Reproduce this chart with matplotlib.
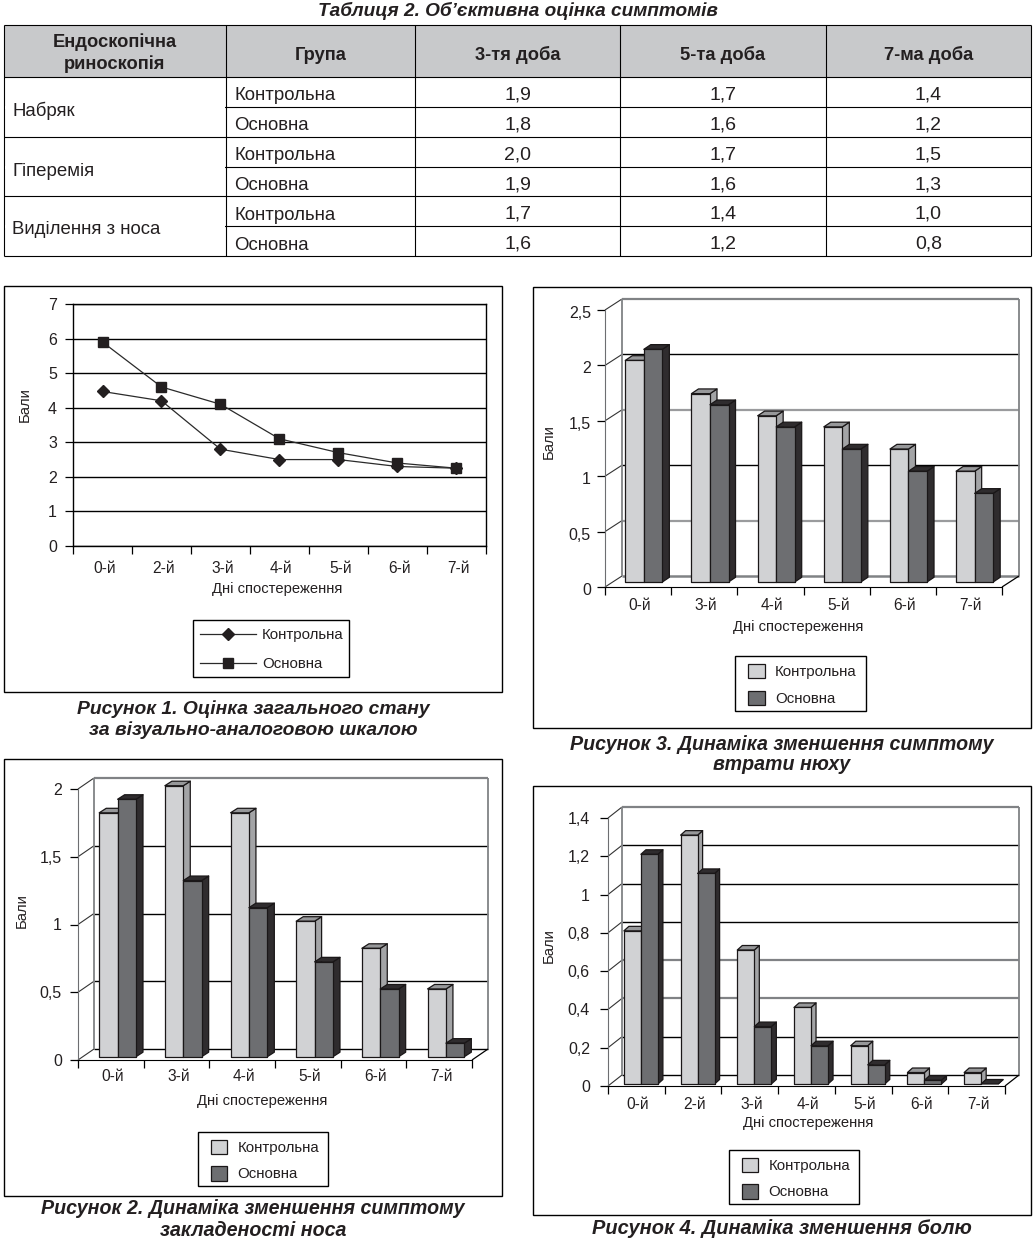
import matplotlib
matplotlib.use('Agg')
import matplotlib.pyplot as plt
from matplotlib.patches import Patch, Rectangle
from matplotlib.transforms import ScaledTranslation

plt.rcParams['font.family'] = ['Liberation Sans', 'DejaVu Sans']

W, H = 1035, 1240
ink = '#231f20'

# table
table_title = 'Таблиця 2. Об’єктивна оцінка симптомів'
table_head = ['Ендоскопічна\nриноскопія', 'Група', '3-тя доба', '5-та доба', '7-ма доба']
symptoms = ['Набряк', 'Гіперемія', 'Виділення з носа']
groups = ['Контрольна', 'Основна']
day3 = ['1,9', '1,8', '2,0', '1,9', '1,7', '1,6']
day5 = ['1,7', '1,6', '1,7', '1,6', '1,4', '1,2']
day7 = ['1,4', '1,2', '1,5', '1,3', '1,0', '0,8']

# figure 1
fig1_days = ['0-й', '2-й', '3-й', '4-й', '5-й', '6-й', '7-й']
fig1_control = [4.47, 4.2, 2.8, 2.5, 2.5, 2.3, 2.25]
fig1_main = [5.9, 4.6, 4.1, 3.1, 2.7, 2.4, 2.25]

# figure 2
fig2_days = ['0-й', '3-й', '4-й', '5-й', '6-й', '7-й']
fig2_control = [1.8, 2.0, 1.8, 1.0, 0.8, 0.5]
fig2_main = [1.9, 1.3, 1.1, 0.7, 0.5, 0.1]
fig2_ticks = [0, 0.5, 1, 1.5, 2]

# figure 3
fig3_days = ['0-й', '3-й', '4-й', '5-й', '6-й', '7-й']
fig3_control = [2.0, 1.7, 1.5, 1.4, 1.2, 1.0]
fig3_main = [2.1, 1.6, 1.4, 1.2, 1.0, 0.8]
fig3_ticks = [0, 0.5, 1, 1.5, 2, 2.5]

# figure 4
fig4_days = ['0-й', '2-й', '3-й', '4-й', '5-й', '6-й', '7-й']
fig4_control = [0.8, 1.3, 0.7, 0.4, 0.2, 0.06, 0.06]
fig4_main = [1.2, 1.1, 0.3, 0.2, 0.1, 0.02, 0.0]
fig4_ticks = [0, 0.2, 0.4, 0.6, 0.8, 1, 1.2, 1.4]

xlabel = 'Дні спостереження'
ylabel = 'Бали'

fig = plt.figure(figsize=(W / 100, H / 100), dpi=100, facecolor='white')

# whole page in pixels, for the frames, the table and the captions
page = fig.add_axes([0, 0, 1, 1], zorder=0)
page.set_xlim(0, W)
page.set_ylim(H, 0)
page.axis('off')


def comma(v):
    return str(v).replace('.', ',')


def hline(x0, x1, y, color='black', lw=0.8):
    page.plot([x0, x1], [y, y], color=color, lw=lw, solid_capstyle='butt')


def vline(x, y0, y1, color='black', lw=0.8):
    page.plot([x, x], [y0, y1], color=color, lw=lw, solid_capstyle='butt')


def caption(lines, cx, y0, size=14.1):
    for i, line in enumerate(lines):
        page.text(cx, y0 + i * 21, line, ha='center', va='center', fontsize=size,
                  fontweight='bold', fontstyle='italic', color=ink)


def draw_table():
    cols = [4, 226, 415, 620, 826, 1031]
    rows = [25, 77, 107, 137, 167, 196, 226, 256]
    page.add_patch(Rectangle((4, 25), 1027, 52, fc='#c8c9cb', ec='none'))
    for y in rows:
        hline(cols[0], cols[-1], y)
    for x in cols:
        vline(x, rows[0], rows[-1])
    # symptom column is merged across the two group rows
    for i in (2, 4, 6):
        page.add_patch(Rectangle((cols[0] + 1, rows[i] - 1.5), cols[1] - cols[0] - 2, 3,
                                 fc='white', ec='none', zorder=3))
    for j, head in enumerate(table_head):
        cy = 53 if j == 0 else 55
        page.text((cols[j] + cols[j + 1]) / 2, cy, head, ha='center', va='center', fontsize=13.2,
                  fontweight='bold', color=ink, linespacing=1.32)
    for i, symptom in enumerate(symptoms):
        page.text(12, rows[1 + 2 * i + 1] + 4, symptom, ha='left', va='center', fontsize=13.4, color=ink)
    for r in range(6):
        cy = (rows[r + 1] + rows[r + 2]) / 2
        page.text(234, cy + 4, groups[r % 2], ha='left', va='center', fontsize=13.4, color=ink)
        for j, col in enumerate([day3, day5, day7]):
            page.text((cols[j + 2] + cols[j + 3]) / 2, cy + 3, col[r], ha='center', va='center',
                      fontsize=14, color=ink)


def chart_axes(x0, x1, y0, y1):
    ax = fig.add_axes([x0 / W, 1 - y0 / H, (x1 - x0) / W, (y0 - y1) / H], zorder=2)
    ax.patch.set_alpha(0)
    return ax


def style_axes(ax, days, ticks, labels, lab_x, lab_y, xpad, ypad, ydrop=0):
    n = len(days)
    ax.set_xlim(0, n)
    ax.set_xticks([i + 0.53 for i in range(n)], days)
    ax.set_xticks(range(n + 1), minor=True)
    ax.tick_params(axis='x', which='major', length=0, pad=xpad, labelsize=11.2, labelcolor=ink)
    ax.tick_params(axis='x', which='minor', length=5.8, width=0.9)
    ax.set_yticks(ticks, labels)
    ax.tick_params(axis='y', length=5.8, width=0.9, pad=ypad, labelsize=11.5, labelcolor=ink)
    if ydrop:
        offset = ScaledTranslation(0, -ydrop / 100, fig.dpi_scale_trans)
        for lab in ax.get_yticklabels():
            lab.set_transform(lab.get_transform() + offset)
    ax.set_xlabel(xlabel, fontsize=10.6, color=ink)
    ax.set_ylabel(ylabel, fontsize=10.6, color=ink)
    ax.xaxis.set_label_coords(lab_x[0], lab_x[1], transform=page.transData)
    ax.yaxis.set_label_coords(lab_y[0], lab_y[1], transform=page.transData)
    ax.xaxis.label.set_verticalalignment('center')
    ax.yaxis.label.set_verticalalignment('center')


def add_legend(ax, box, handles, shift, **kw):
    x0, y0, x1, y1 = box
    page.add_patch(Rectangle((x0, y0), x1 - x0, y1 - y0, fc='white', ec='black', lw=1.0))
    ax.legend(handles, groups, loc='center', frameon=False, fontsize=10.8, labelcolor=ink,
              bbox_to_anchor=((x0 + shift) / W, 1 - (y1 + 1.5) / H, (x1 - x0) / W, (y1 - y0) / H),
              bbox_transform=fig.transFigure, borderpad=0, **kw)


def line_chart(frame, days, control, main, legend_box):
    x0, y0, x1, y1 = frame
    page.add_patch(Rectangle((x0, y0), x1 - x0, y1 - y0, fc='none', ec='black', lw=1.0))
    ax = chart_axes(73, 486, 546, 304)
    ax.set_ylim(0, 7)
    style_axes(ax, days, range(8), [str(v) for v in range(8)], (277, 589), (25, 405), 10.5, 5.8)
    ax.yaxis.grid(True, color='black', lw=1.0)
    ax.set_axisbelow(True)
    for s in ax.spines.values():
        s.set_linewidth(1.0)
    xs = [i + 0.5 for i in range(len(days))]
    l1, = ax.plot(xs, control, color='#2a2a2a', lw=0.9, marker='D', ms=6.6, mfc=ink, mec=ink, clip_on=False)
    l2, = ax.plot(xs, main, color='#2a2a2a', lw=0.9, marker='s', ms=7.6, mfc=ink, mec=ink, clip_on=False)
    add_legend(ax, legend_box, [l1, l2], 1.5, handlelength=3.7, handletextpad=0.4, labelspacing=1.0)


def bar_chart(frame, plot, depth, bar_geom, days, control, main, ticks, vmax, grid_colors,
              floor_color, lab_x, lab_y, pads, legend_box):
    x0, y0, x1, y1 = frame
    page.add_patch(Rectangle((x0, y0), x1 - x0, y1 - y0, fc='none', ec='black', lw=1.0))
    ax = chart_axes(*plot)
    n = len(days)
    ax.set_ylim(0, vmax)
    labels = [comma(t) for t in ticks]
    style_axes(ax, days, ticks, labels, lab_x, lab_y, *pads)
    for name in ('top', 'right'):
        ax.spines[name].set_visible(False)
    ax.spines['left'].set_color('#6d6e71')

    # depth given in pixels goes over to data units of this axes
    px_x = (plot[1] - plot[0]) / n
    px_y = (plot[2] - plot[3]) / vmax
    ddx, ddy = depth[0] / px_x, depth[1] / px_y
    wall = '#808285'
    kw = dict(clip_on=False, solid_capstyle='butt', zorder=1)
    for t, c in zip(ticks[1:], grid_colors):
        ax.plot([ddx, n + ddx], [t + ddy, t + ddy], color=c, lw=1.0 if c == 'black' else 1.6, **kw)
    ax.plot([ddx, n + ddx], [ddy, ddy], color=floor_color, lw=1.0 if floor_color == 'black' else 1.8, **kw)
    for t in ticks:
        ax.plot([0, ddx], [t, t + ddy], color='#333333', lw=0.8, **kw)
    ax.plot([ddx, ddx], [ddy, vmax + ddy], color=wall, lw=1.3, **kw)
    ax.plot([n + ddx, n + ddx], [ddy, vmax + ddy], color=wall, lw=1.3, **kw)
    ax.plot([n, n + ddx], [0, ddy], color='black', lw=0.9, **kw)

    margin, width, base_y, bar_x, bar_y = bar_geom
    base_x = base_y * depth[0] / depth[1]
    bx, by = base_x / px_x, base_y / px_y
    sx, sy = bar_x / px_x, bar_y / px_y
    styles = [('#d1d2d4', '#97989a', '#a3a4a6'), ('#6d6e71', '#2f2c2e', '#2f2c2e')]
    edge = dict(ec='#1a1718', lw=0.9, clip_on=False, zorder=3, joinstyle='round')
    for k, series in enumerate((control, main)):
        face, top, side = styles[k]
        for i, v in enumerate(series):
            left = i + margin + k * width + bx
            right = left + width
            up = v + by
            ax.fill([right, right + sx, right + sx, right], [by, by + sy, up + sy, up], fc=side, **edge)
            ax.fill([left, left + sx, right + sx, right], [up, up + sy, up + sy, up], fc=top, **edge)
            if v > 0:
                ax.fill([left, right, right, left], [by, by, up, up], fc=face, **edge)

    handles = [Patch(fc=styles[0][0], ec='#1a1718', lw=0.9), Patch(fc=styles[1][0], ec='#1a1718', lw=0.9)]
    add_legend(ax, legend_box, handles, 2, handlelength=1.1, handleheight=1.1, handletextpad=0.7,
               labelspacing=0.75)


page.text(518, 10.5, table_title, ha='center', va='center', fontsize=13.7, fontweight='bold',
          fontstyle='italic', color=ink)
draw_table()

line_chart((4, 286, 502, 692), fig1_days, fig1_control, fig1_main, (192.5, 620, 348.5, 677))
caption(['Рисунок 1. Оцінка загального стану', 'за візуально-аналоговою шкалою'], 253, 709, size=13.9)

bar_chart((4, 759, 502, 1196), (78, 472, 1060, 789), (16, 11), (0.25, 0.28, 3.3, 7, 4.5),
          fig2_days, fig2_control, fig2_main, fig2_ticks, 2,
          ['black', 'black', 'black', '#808285'], 'black', (262, 1101), (22, 911), (6.7, 5.8),
          (198, 1132, 328, 1186))
caption(['Рисунок 2. Динаміка зменшення симптому', 'закладеності носа'], 253, 1209)

bar_chart((533, 287, 1031, 728), (605, 1002, 587, 310), (17, 11), (0.19, 0.28, 5, 7, 4.7),
          fig3_days, fig3_control, fig3_main, fig3_ticks, 2.5,
          ['#9a9b9d', 'black', '#9a9b9d', 'black', '#808285'], '#808285', (798, 627), (549, 442),
          (8, 4.3, 2), (735, 656, 866, 711))
caption(['Рисунок 3. Динаміка зменшення симптому', 'втрати нюху'], 782, 744)

bar_chart((533, 786, 1031, 1215), (608, 1005, 1086, 818), (14, 11), (0.235, 0.30, 2, 5, 4.5),
          fig4_days, fig4_control, fig4_main, fig4_ticks, 1.4,
          ['black', '#808285', '#808285', 'black', 'black', 'black', '#808285'], 'black', (808, 1123), (549, 946),
          (8, 7.2), (729, 1150, 859, 1204))
caption(['Рисунок 4. Динаміка зменшення болю'], 782, 1229, size=14.4)

fig.savefig('out.png', dpi=100)
